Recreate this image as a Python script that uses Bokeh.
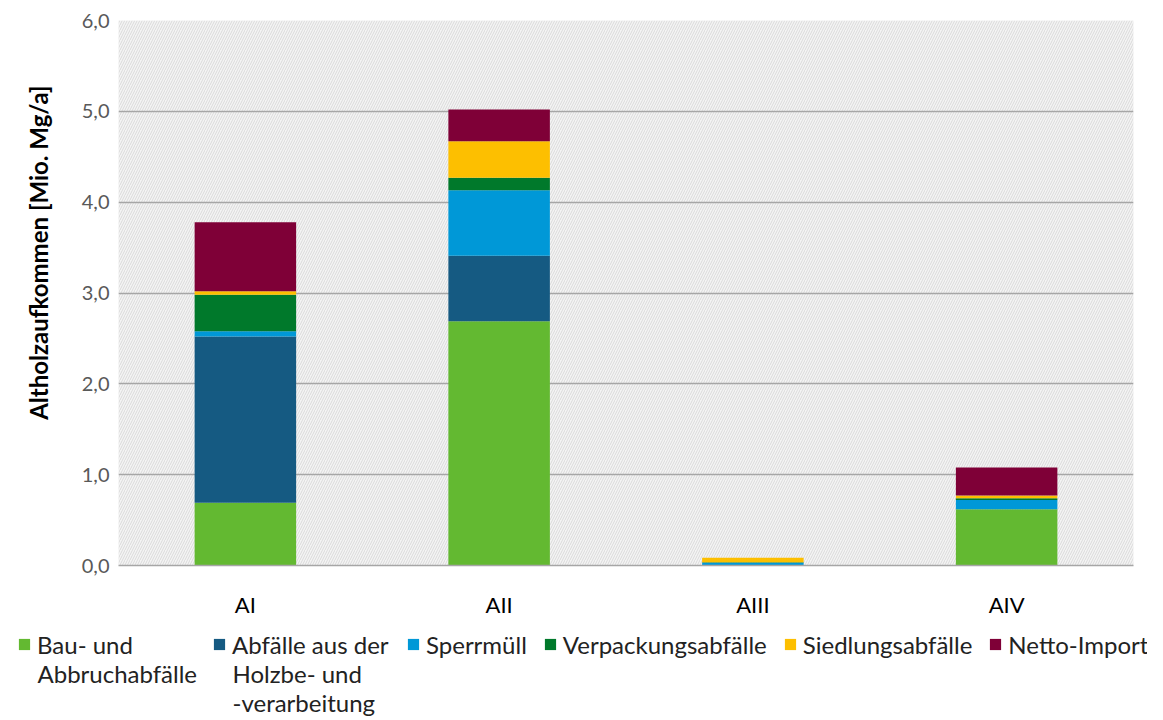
from bokeh.plotting import figure
from bokeh.models import (FactorRange, Range1d, BoxAnnotation, Legend, LegendItem, Label, Title,
                          CustomJSTickFormatter, ColumnDataSource, FixedTicker)
from bokeh.embed import file_html
from bokeh.resources import INLINE

categories = ["AI", "AII", "AIII", "AIV"]
bau = [0.69, 2.69, 0.0, 0.62]
holz = [1.83, 0.72, 0.0, 0.0]
sperr = [0.06, 0.72, 0.03, 0.10]
verp = [0.40, 0.14, 0.005, 0.02]
sied = [0.04, 0.40, 0.05, 0.03]
netto = [0.76, 0.35, 0.0, 0.31]

series = ["bau", "holz", "sperr", "verp", "sied", "netto"]
label_lines = [["Bau- und", "Abbruchabfälle"],
               ["Abfälle aus der", "Holzbe- und", "-verarbeitung"],
               ["Sperrmüll"], ["Verpackungsabfälle"], ["Siedlungsabfälle"], ["Netto-Import"]]
colors = ["#63b931", "#155a82", "#0098d7", "#00792b", "#fdbf00", "#7f0037"]
y_ticks = [0, 1, 2, 3, 4, 5, 6]
y_title = "Altholzaufkommen [Mio. Mg/a]"

FONT = "Lato"
LEG_SIZE = 24
W = 1147
H1 = 620
H2 = 100

src = ColumnDataSource(dict(x=categories, bau=bau, holz=holz, sperr=sperr,
                            verp=verp, sied=sied, netto=netto))

p = figure(width=W, height=H1, x_range=FactorRange(*categories, range_padding=0),
           y_range=Range1d(0, 6), output_backend="svg", toolbar_location=None,
           min_border_left=118, min_border_right=14, min_border_top=20, min_border_bottom=51)
p.outline_line_color = None
p.background_fill_color = "#f4f4f4"
p.border_fill_color = "white"

bg = BoxAnnotation(fill_alpha=0, line_color=None, hatch_pattern="/", hatch_color="#dadada",
                   hatch_scale=5, hatch_weight=1, level="image")
p.add_layout(bg)

renderers = p.vbar_stack(series, x="x", width=0.4, color=colors, line_color=None, source=src)

p.ygrid.grid_line_color = "#a6a6a6"
p.ygrid.grid_line_width = 1.6
p.xgrid.grid_line_color = None

p.yaxis.ticker = FixedTicker(ticks=y_ticks)
p.yaxis.formatter = CustomJSTickFormatter(code="return tick.toFixed(1).replace('.', ',');")
p.yaxis.axis_line_color = None
p.yaxis.major_tick_line_color = None
p.yaxis.minor_tick_line_color = None
p.yaxis.major_label_text_font = FONT
p.yaxis.major_label_text_font_size = "20px"
p.yaxis.major_label_text_color = "#595959"
p.yaxis.major_label_standoff = 3
# blank spacer label pushes the y title further out
p.yaxis.axis_label = " "
p.yaxis.axis_label_text_font_size = "1px"
p.yaxis.axis_label_standoff = 17

p.add_layout(Title(text=y_title, align="right", offset=65, standoff=10,
                   text_font=FONT, text_font_style="bold", text_font_size="24px",
                   text_color="black"), "left")

p.xaxis.axis_line_color = "#a6a6a6"
p.xaxis.axis_line_width = 1.6
p.xaxis.major_tick_line_color = None
p.xaxis.minor_tick_line_color = None
p.xaxis.major_label_text_font = FONT
p.xaxis.major_label_text_font_size = "22px"
p.xaxis.major_label_text_color = "black"
p.xaxis.major_label_standoff = 19

# ---- legend strip: zero-width swatch renderers on the same data, outside the strip's view ----
q = figure(width=W, height=H2, x_range=FactorRange(*categories, range_padding=0),
           y_range=Range1d(-20, -10), output_backend="svg", toolbar_location=None,
           min_border=0, min_border_left=0, min_border_right=0,
           min_border_top=0, min_border_bottom=0)
q.axis.visible = False
q.grid.visible = False
q.outline_line_color = None
q.background_fill_color = "white"

swatches = q.vbar_stack(series, x="x", width=0, color=colors, line_color=None, source=src)

LEG_H = 30
line1_y = 76      # center of first legend line, px from bottom of strip
line_step = 29
GLYPH = 14
STANDOFF = 6


def make_legend(idx_list, x):
    items = [LegendItem(label=label_lines[i][0], renderers=[swatches[i]]) for i in idx_list]
    return Legend(items=items, orientation="horizontal", location=(x, line1_y - LEG_H / 2),
                  label_text_font=FONT, label_text_font_size=f"{LEG_SIZE}px",
                  label_text_color="#222222", label_height=LEG_H,
                  glyph_width=GLYPH, glyph_height=GLYPH,
                  label_standoff=STANDOFF, spacing=16, padding=0, margin=0,
                  border_line_color=None, background_fill_alpha=0)


leg_x = [17, 212, 406]
q.add_layout(make_legend([0], leg_x[0]))
q.add_layout(make_legend([1], leg_x[1]))
q.add_layout(make_legend([2, 3, 4, 5], leg_x[2]))

for i, x in [(0, leg_x[0]), (1, leg_x[1])]:
    for k, txt in enumerate(label_lines[i][1:], start=1):
        q.add_layout(Label(x=x + GLYPH + STANDOFF, y=line1_y - k * line_step,
                           x_units="screen", y_units="screen", text=txt, text_font=FONT,
                           text_font_size=f"{LEG_SIZE}px", text_color="#222222",
                           text_baseline="middle", text_align="left"))

open("out.html", "w").write(file_html([p, q], INLINE))
